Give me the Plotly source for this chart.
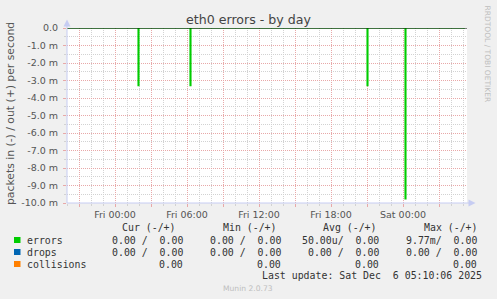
import plotly.graph_objects as go

# ---------------- data ----------------
# errors (in, plotted negative) sampled every 5 min; only non-zero samples listed with zero anchors
err_times = ["2025-12-04 20:00", "2025-12-05 01:55", "2025-12-05 02:00",
             "2025-12-05 06:15", "2025-12-05 06:20",
             "2025-12-05 21:00", "2025-12-05 21:05",
             "2025-12-06 00:10", "2025-12-06 00:15", "2025-12-06 05:10"]
err_vals = [0.0, -0.0033, 0.0,
            -0.0033, 0.0,
            -0.0033, 0.0,
            -0.00977, 0.0, 0.0]

x_range = ["2025-12-04 20:00", "2025-12-06 05:20"]
x_tickvals = ["2025-12-04 21:00", "2025-12-05 00:00", "2025-12-05 03:00", "2025-12-05 06:00",
              "2025-12-05 09:00", "2025-12-05 12:00", "2025-12-05 15:00", "2025-12-05 18:00",
              "2025-12-05 21:00", "2025-12-06 00:00", "2025-12-06 03:00"]
x_ticktext = ["", "Fri 00:00", "", "Fri 06:00", "", "Fri 12:00", "", "Fri 18:00", "", "Sat 00:00", ""]

y_tickvals = [0, -0.001, -0.002, -0.003, -0.004, -0.005, -0.006, -0.007, -0.008, -0.009, -0.010]
y_ticktext = ["0.0", "-1.0 m", "-2.0 m", "-3.0 m", "-4.0 m", "-5.0 m", "-6.0 m",
              "-7.0 m", "-8.0 m", "-9.0 m", "-10.0 m"]

legend_labels = ["errors", "drops", "collisions"]
legend_colors = ["#00CC00", "#0066B3", "#FF8000"]
col_headers = ["Cur (-/+)", "Min (-/+)", "Avg (-/+)", "Max (-/+)"]
cur_vals = ["0.00 /  0.00", "0.00 /  0.00", "0.00"]
min_vals = ["0.00 /  0.00", "0.00 /  0.00", "0.00"]
avg_vals = ["50.00u/  0.00", "0.00 /  0.00", "0.00"]
max_vals = ["9.77m/  0.00", "0.00 /  0.00", "0.00"]

title_text = "eth0 errors - by day"
ylabel_text = "packets in (-) / out (+) per second"
last_update = "Last update: Sat Dec  6 05:10:06 2025"
watermark = "RRDTOOL / TOBI OETIKER"
version = "Munin 2.0.73"

# ---------------- layout helpers ----------------
L, T, PW, PH = 67, 28, 400, 175
W, H = 497, 299


def px(x):
    return (x - L) / PW


def py(y):
    return (T + PH - y) / PH


def nb(s):
    return s.replace(" ", "\u00a0")


RED = "#E8A8A8"
GRAY = "#D2D2D2"
AXIS = "#C6CCF2"
TXT = "#555555"
MONO = "DejaVu Sans Mono"
SANS = "DejaVu Sans"

fig = go.Figure()
fig.add_trace(go.Scatter(x=err_times, y=err_vals, mode="lines", line=dict(color="#00CC00", width=1.1, shape="hv"),
                         hoverinfo="skip", showlegend=False))

fig.update_layout(
    width=W, height=H,
    margin=dict(l=L, r=W - L - PW, t=T, b=H - T - PH, pad=0),
    paper_bgcolor="#F0F0F0", plot_bgcolor="#FFFFFF",
    showlegend=False,
    xaxis=dict(type="date", range=x_range, tickmode="array", tickvals=x_tickvals, ticktext=x_ticktext,
               showgrid=True, gridcolor=RED, griddash="1px,1px", gridwidth=1,
               ticks="outside", ticklen=3, tickcolor=RED, showline=False, zeroline=False,
               tickfont=dict(family=SANS, size=9.5, color=TXT),
               minor=dict(dtick=3600000, tick0="2025-12-04 20:00", showgrid=True, gridcolor=GRAY,
                          griddash="1px,1px", ticks="outside", ticklen=2, tickcolor=GRAY)),
    yaxis=dict(range=[-0.010, 0.0], tickmode="array", tickvals=y_tickvals, ticktext=y_ticktext,
               showgrid=True, gridcolor=RED, griddash="1px,1px", gridwidth=1,
               ticks="outside", ticklen=3, tickcolor=RED, showline=False, zeroline=False,
               ticklabelstandoff=3,
               tickfont=dict(family=SANS, size=9.5, color=TXT),
               minor=dict(dtick=0.0005, tick0=0, showgrid=True, gridcolor=GRAY,
                          griddash="1px,1px", ticks="outside", ticklen=2, tickcolor=GRAY)),
)

shapes = []
# zero line
shapes.append(dict(type="line", xref="paper", yref="y", x0=0, x1=1, y0=0, y1=0,
                   line=dict(color="#000000", width=1), layer="above"))
# axes with arrows
shapes.append(dict(type="line", xref="paper", yref="paper", x0=0, x1=0, y0=py(203), y1=py(24),
                   line=dict(color=AXIS, width=1)))
shapes.append(dict(type="line", xref="paper", yref="paper", x0=px(67), x1=px(470), y0=0, y1=0,
                   line=dict(color=AXIS, width=1)))
shapes.append(dict(type="path", xref="paper", yref="paper",
                   path=f"M {px(63.5)} {py(26.5)} L {px(67)} {py(19.5)} L {px(70.5)} {py(26.5)} Z",
                   fillcolor=AXIS, line=dict(width=0)))
shapes.append(dict(type="path", xref="paper", yref="paper",
                   path=f"M {px(468.5)} {py(199.5)} L {px(475.5)} {py(203)} L {px(468.5)} {py(206.5)} Z",
                   fillcolor=AXIS, line=dict(width=0)))
# legend colour boxes
row_y = [240, 252, 264]
for c, yy in zip(legend_colors, row_y):
    shapes.append(dict(type="rect", xref="paper", yref="paper", x0=px(14), x1=px(20.5),
                       y0=py(yy + 3), y1=py(yy - 3), fillcolor=c, line=dict(width=0)))
fig.update_layout(shapes=shapes)

ann = []


def add(text, x, y, size, color, xanchor="left", family=MONO, angle=0):
    ann.append(dict(text=nb(text), x=px(x), y=py(y), xref="paper", yref="paper", showarrow=False,
                    xanchor=xanchor, yanchor="middle", textangle=angle,
                    font=dict(family=family, size=size, color=color), borderpad=0))


add(title_text, 248, 19, 12.6, "#444444", xanchor="center", family=SANS)
add(ylabel_text, 10, 114, 10.8, TXT, xanchor="center", family=SANS, angle=-90)
add(watermark, 487.5, 54, 7.5, "#BEBEBE", xanchor="center", family=SANS, angle=90)
add(version, 248, 288, 7.6, "#BEBEBE", xanchor="center", family=SANS)

hdr_x = [121, 222, 322, 423]
for h, x in zip(col_headers, hdr_x):
    add(h, x, 227, 9.9, "#333333")
val_right = [183.5, 281.5, 379.5, 477.5]
for i, (lab, yy) in enumerate(zip(legend_labels, row_y)):
    add(lab, 26, yy, 9.9, "#333333")
    for col, xr in zip([cur_vals, min_vals, avg_vals, max_vals], val_right):
        add(col[i], xr, yy, 9.9, "#333333", xanchor="right")
add(last_update, 482.5, 275.5, 9.9, "#333333", xanchor="right")

fig.update_layout(annotations=ann)
fig.write_html("out.html")
